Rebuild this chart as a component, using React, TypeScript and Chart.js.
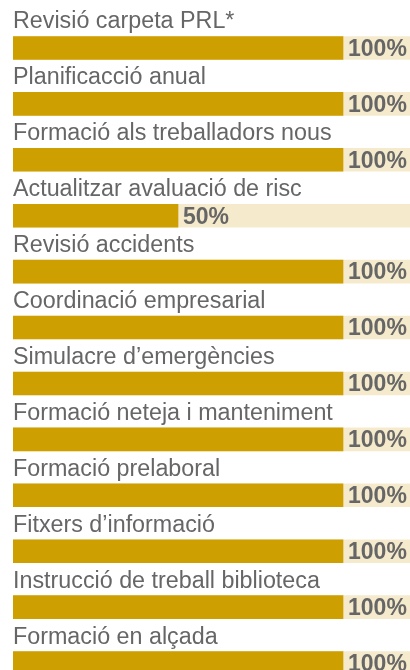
import React, { useEffect, useRef } from "react";
import { Chart, registerables } from "chart.js";

Chart.register(...registerables);

const categories: string[] = [
  "Revisió carpeta PRL*",
  "Planificacció anual",
  "Formació als treballadors nous",
  "Actualitzar avaluació de risc",
  "Revisió accidents",
  "Coordinació empresarial",
  "Simulacre d’emergències",
  "Formació neteja i manteniment",
  "Formació prelaboral",
  "Fitxers d’informació",
  "Instrucció de treball biblioteca",
  "Formació en alçada",
];

const completion: number[] = [100, 100, 100, 50, 100, 100, 100, 100, 100, 100, 100, 100];

const TRACK_MAX = 120.3;
const trackValues: number[] = categories.map(() => TRACK_MAX);

const GOLD = "#CE9F00";
const BEIGE = "#F5EBCC";
const TEXT = "#666666";

export default function App() {
  const ref = useRef<HTMLCanvasElement | null>(null);

  useEffect(() => {
    if (!ref.current) return;
    const labelPlugin = {
      id: "rowLabels",
      afterDatasetsDraw(chart: any) {
        const ctx = chart.ctx;
        const meta = chart.getDatasetMeta(0);
        const left = chart.chartArea.left;
        ctx.save();
        meta.data.forEach((el: any, i: number) => {
          const h = el.height;
          ctx.fillStyle = TEXT;
          ctx.font = "23.3px 'Liberation Sans', Arial, sans-serif";
          ctx.textAlign = "left";
          ctx.textBaseline = "alphabetic";
          ctx.fillText(categories[i], left, el.y - h / 2 - 8);
          ctx.font = "bold 23px 'Liberation Sans', Arial, sans-serif";
          ctx.textBaseline = "middle";
          ctx.fillText(completion[i] + "%", el.x + 5, el.y + 1.5);
        });
        ctx.restore();
      },
    };

    const chart = new Chart(ref.current, {
      type: "bar",
      data: {
        labels: categories,
        datasets: [
          {
            data: completion,
            backgroundColor: GOLD,
            barThickness: 23,
            grouped: false,
            order: 0,
          } as any,
          {
            data: trackValues,
            backgroundColor: BEIGE,
            barThickness: 23,
            grouped: false,
            order: 1,
          } as any,
        ],
      },
      options: {
        indexAxis: "y",
        responsive: false,
        animation: false,
        layout: { padding: { left: 13, right: 0, top: 20, bottom: 0 } },
        plugins: { legend: { display: false }, tooltip: { enabled: false } },
        scales: {
          x: { display: false, min: 0, max: TRACK_MAX },
          y: { display: false },
        },
      },
      plugins: [labelPlugin],
    });
    return () => chart.destroy();
  }, []);

  return (
    <div
      style={{
        position: "fixed",
        left: 0,
        top: 0,
        width: 410,
        height: 670,
        overflow: "hidden",
        background: "#fff",
      }}
    >
      <canvas ref={ref} width={410} height={691} style={{ display: "block" }} />
    </div>
  );
}
